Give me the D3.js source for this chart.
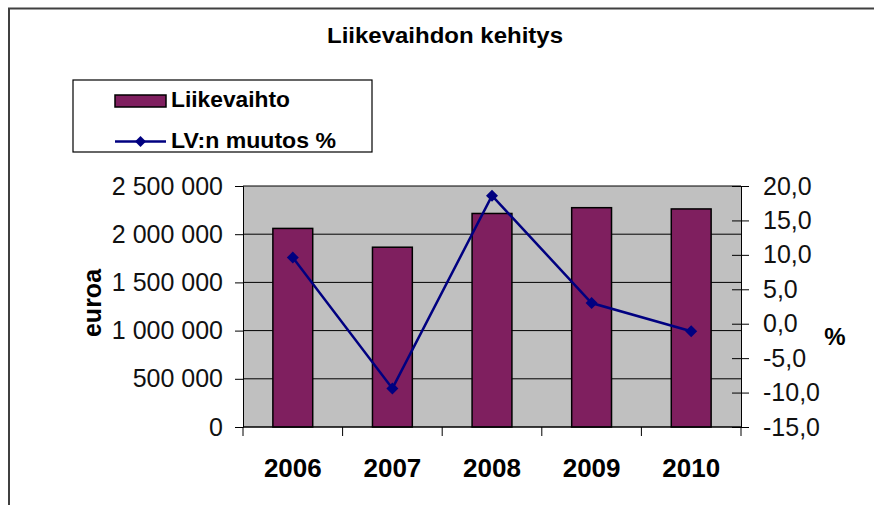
<!DOCTYPE html>
<html>
<head>
<meta charset="utf-8">
<script src="https://cdn.jsdelivr.net/npm/d3@7"></script>
<style>
  body { margin: 0; background: #fff; }
  text { font-family: "Liberation Sans", Arial, sans-serif; }
</style>
</head>
<body>
<div id="chart"></div>
<script>
var years = ["2006", "2007", "2008", "2009", "2010"];
var liikevaihto = [2060000, 1865000, 2215000, 2275000, 2262000];
var muutos = [9.6, -9.4, 18.6, 3.0, -1.1];
var leftTicks = [0, 500000, 1000000, 1500000, 2000000, 2500000];
var rightTicks = [-15, -10, -5, 0, 5, 10, 15, 20];

var W = 874, H = 505;
var plot = { left: 243, right: 741, top: 186, bottom: 427 };

var svg = d3.select("#chart").append("svg")
    .attr("width", W)
    .attr("height", H);

var fi = d3.formatLocale({ decimal: ",", thousands: " ", grouping: [3], currency: ["", " €"], minus: "-" });

var x = d3.scaleBand().domain(years)
    .range([plot.left, plot.right])
    .paddingInner(0.6).paddingOuter(0.3);
var yL = d3.scaleLinear().domain([0, 2500000]).range([plot.bottom, plot.top]);
var yR = d3.scaleLinear().domain([-15, 20]).range([plot.bottom, plot.top]);

// outer frame (only left and top visible)
svg.append("path")
    .attr("d", "M9," + H + " V8.5 H" + W)
    .attr("fill", "none")
    .attr("stroke", "#404040")
    .attr("stroke-width", 2);

// title
svg.append("text")
    .attr("x", 445)
    .attr("y", 43)
    .attr("text-anchor", "middle")
    .style("font-size", "22px")
    .style("font-weight", "bold")
    .attr("textLength", 236)
    .attr("lengthAdjust", "spacingAndGlyphs")
    .text("Liikevaihdon kehitys");

// plot background
svg.append("rect")
    .attr("x", plot.left)
    .attr("y", plot.top)
    .attr("width", plot.right - plot.left)
    .attr("height", plot.bottom - plot.top)
    .attr("fill", "#c0c0c0");

// gridlines
svg.append("g").selectAll("line")
    .data(leftTicks)
    .enter().append("line")
    .attr("x1", plot.left)
    .attr("x2", plot.right)
    .attr("y1", function(d) { return yL(d); })
    .attr("y2", function(d) { return yL(d); })
    .attr("stroke", "#000")
    .attr("stroke-width", 1);

// bars
svg.append("g").selectAll("rect")
    .data(liikevaihto)
    .enter().append("rect")
    .attr("x", function(d, i) { return x(years[i]); })
    .attr("y", function(d) { return yL(d); })
    .attr("width", x.bandwidth())
    .attr("height", function(d) { return yL(0) - yL(d); })
    .attr("fill", "#7f1f5f")
    .attr("stroke", "#000")
    .attr("stroke-width", 1.5);

// left axis
var leftAxis = svg.append("g")
    .attr("transform", "translate(" + plot.left + ",0)")
    .call(d3.axisLeft(yL).tickValues(leftTicks).tickSize(8).tickPadding(12)
        .tickFormat(fi.format(",.0f")));
leftAxis.select(".domain").attr("stroke", "#000");
leftAxis.selectAll("text")
    .style("font-size", "25px")
    .attr("fill", "#111")
    .style("font-family", "Liberation Sans, Arial, sans-serif");

// bottom axis, ticks at category boundaries
var boundaries = years.map(function(d) { return x(d) - x.step() * x.paddingInner() / 2; });
boundaries.push(plot.right);
svg.append("line")
    .attr("x1", plot.left).attr("x2", plot.right)
    .attr("y1", plot.bottom).attr("y2", plot.bottom)
    .attr("stroke", "#000");
svg.append("g").selectAll("line")
    .data(boundaries)
    .enter().append("line")
    .attr("x1", function(d) { return d; })
    .attr("x2", function(d) { return d; })
    .attr("y1", plot.bottom)
    .attr("y2", plot.bottom + 9)
    .attr("stroke", "#000");
svg.append("g").selectAll("text")
    .data(years)
    .enter().append("text")
    .attr("x", function(d) { return x(d) + x.bandwidth() / 2; })
    .attr("y", 477)
    .attr("text-anchor", "middle")
    .style("font-size", "26px")
    .style("font-weight", "bold")
    .text(function(d) { return d; });

// right axis
var rightAxis = svg.append("g")
    .attr("transform", "translate(" + plot.right + ",0)")
    .call(d3.axisRight(yR).tickValues(rightTicks).tickSize(8).tickPadding(14)
        .tickFormat(fi.format(".1f")));
rightAxis.select(".domain").attr("stroke", "#000");
rightAxis.selectAll(".tick line").attr("x1", -9).attr("stroke", "#000");
rightAxis.selectAll("text")
    .style("font-size", "25px")
    .attr("fill", "#111")
    .style("font-family", "Liberation Sans, Arial, sans-serif");

// line series
var line = d3.line()
    .x(function(d, i) { return x(years[i]) + x.bandwidth() / 2; })
    .y(function(d) { return yR(d); });
svg.append("path")
    .attr("d", line(muutos))
    .attr("fill", "none")
    .attr("stroke", "#000080")
    .attr("stroke-width", 2.5);
svg.append("g").selectAll("path")
    .data(muutos)
    .enter().append("path")
    .attr("d", d3.symbol().type(d3.symbolSquare).size(72))
    .attr("transform", function(d, i) {
        return "translate(" + (x(years[i]) + x.bandwidth() / 2) + "," + yR(d) + ") rotate(45)";
    })
    .attr("fill", "#000080");

// axis titles
svg.append("text")
    .attr("transform", "translate(101,303) rotate(-90)")
    .attr("text-anchor", "middle")
    .style("font-size", "25px")
    .style("font-weight", "bold")
    .text("euroa");
svg.append("text")
    .attr("x", 835)
    .attr("y", 345)
    .attr("text-anchor", "middle")
    .style("font-size", "24px")
    .style("font-weight", "bold")
    .text("%");

// legend
var legX = 73, legY = 80;
svg.append("rect")
    .attr("x", legX).attr("y", legY)
    .attr("width", 299).attr("height", 72)
    .attr("fill", "#fff")
    .attr("stroke", "#000")
    .attr("stroke-width", 1.2);
svg.append("rect")
    .attr("x", 115).attr("y", 95)
    .attr("width", 51).attr("height", 12)
    .attr("fill", "#7f1f5f")
    .attr("stroke", "#000")
    .attr("stroke-width", 1.5);
svg.append("text")
    .attr("x", 171).attr("y", 107)
    .style("font-size", "22px")
    .style("font-weight", "bold")
    .attr("textLength", 119)
    .attr("lengthAdjust", "spacingAndGlyphs")
    .text("Liikevaihto");
svg.append("line")
    .attr("x1", 115).attr("x2", 166)
    .attr("y1", 141.5).attr("y2", 141.5)
    .attr("stroke", "#000080")
    .attr("stroke-width", 2.5);
svg.append("path")
    .attr("d", d3.symbol().type(d3.symbolSquare).size(60))
    .attr("transform", "translate(140.5,141.5) rotate(45)")
    .attr("fill", "#000080");
svg.append("text")
    .attr("x", 171).attr("y", 148)
    .style("font-size", "22px")
    .style("font-weight", "bold")
    .attr("textLength", 165)
    .attr("lengthAdjust", "spacingAndGlyphs")
    .text("LV:n muutos %");
</script>
</body>
</html>
